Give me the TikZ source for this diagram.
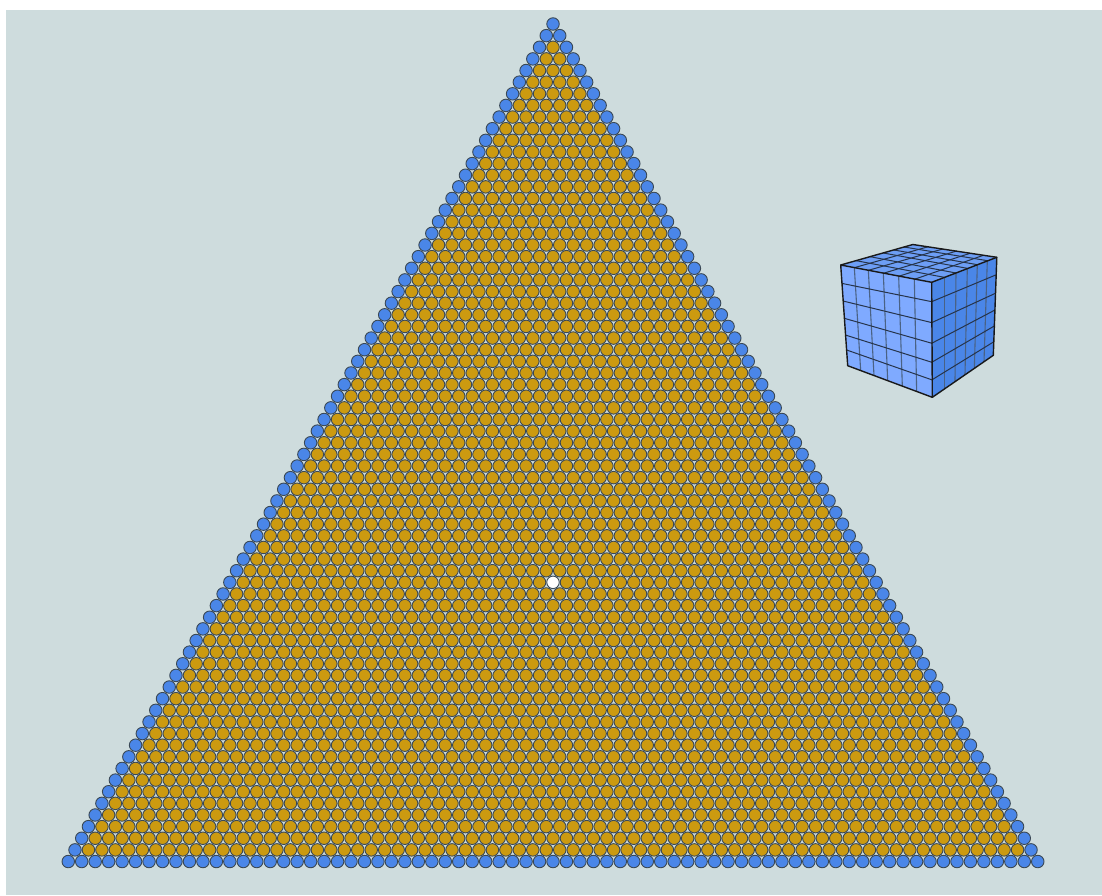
\documentclass[tikz,border=0pt]{standalone}
\definecolor{bgc}{HTML}{CEDCDD}
\definecolor{blueb}{HTML}{4A86E8}
\definecolor{goldb}{HTML}{CC9A10}
\definecolor{edgec}{HTML}{3A4855}
\definecolor{cubeL}{HTML}{7FAAFF}
\definecolor{cubeT}{HTML}{6D9EF5}
\definecolor{cubeR}{HTML}{4A86E8}
\definecolor{cubeline}{HTML}{26344A}
\definecolor{cubevert}{HTML}{4A6284}
\tikzset{
  ball/.style={draw=edgec,line width=0.9pt},
  cubeface/.style={draw=black!90,line width=1.4pt,line join=round},
  cubegrid/.style={draw=cubeline,line width=1pt},
  cubegridv/.style={draw=cubevert,line width=1.1pt},
}
\begin{document}
\begin{tikzpicture}[x=1pt,y=-1pt]
\useasboundingbox (0,0) rectangle (1102,895);
\fill[bgc] (6,10) rectangle (1102,895);
\foreach \r in {0,...,72}{
  \foreach \c in {0,...,\r}{
    \pgfmathsetmacro{\px}{553+(\c-\r/2)*13.465}
    \pgfmathsetmacro{\py}{24+\r*11.632}
    \def\ballc{goldb}
    \ifnum\c=0 \def\ballc{blueb}\fi
    \ifnum\c=\r \def\ballc{blueb}\fi
    \ifnum\r=72 \def\ballc{blueb}\fi
    \ifnum\r=48 \ifnum\c=24 \def\ballc{white}\fi\fi
    \draw[ball,fill=\ballc] (\px,\py) circle (6.25);
  }
}
% cube
\coordinate (A) at (840.7,265);
\coordinate (B) at (931.7,282.3);
\coordinate (C) at (996.8,257.3);
\coordinate (D) at (912.8,244.5);
\coordinate (E) at (847.7,365.7);
\coordinate (F) at (932.3,397.3);
\coordinate (G) at (993.3,355.3);
\fill[cubeL] (A)--(B)--(F)--(E)--cycle;
\fill[cubeR] (B)--(C)--(G)--(F)--cycle;
\fill[cubeT] (A)--(B)--(C)--(D)--cycle;
% grid lines, in the 3x zoom coordinates of the cube
\begin{scope}[shift={(820,230)},x=0.3333pt,y=-0.3333pt]
\foreach \a/\b/\ay/\by in {103/122/113/422,145/162/121/437,190/203/130/452,236/247/139/468,283/290/148/484}
  \draw[cubegridv] (\a,\ay)--(\b,\by);
\foreach \ay/\by/\ax/\bx in {160/215/65/335,213/278/69/336,265/340/73/336,315/397/76/336,360/450/80/337}
  \draw[cubegrid] (\ax,\ay)--(\bx,\by);
\foreach \a/\b/\ay/\by in {373/373/142/477,408/405/129/455,442/435/115/434,472/463/104/415,502/492/92/395}
  \draw[cubegridv] (\a,\ay)--(\b,\by);
\foreach \ay/\by/\bx in {215/135/527,278/190/526,340/240/525,397/288/523,450/335/522}
  \draw[cubegrid] (335,\ay)--(\bx,\by);
\foreach \a/\ay/\b/\by in {103/113/325/50,145/121/368/57,190/130/410/63,236/139/450/70,283/148/490/76}
  \draw[cubegrid] (\a,\ay)--(\b,\by);
\foreach \a/\ay/\b/\by in {108/92/373/142,150/80/408/129,190/69/442/115,222/60/472/104,252/51/502/92}
  \draw[cubegrid] (\a,\ay)--(\b,\by);
\end{scope}
\draw[cubeface] (A)--(B)--(F)--(E)--cycle;
\draw[cubeface] (B)--(C)--(G)--(F);
\draw[cubeface] (A)--(D)--(C);
\end{tikzpicture}
\end{document}
